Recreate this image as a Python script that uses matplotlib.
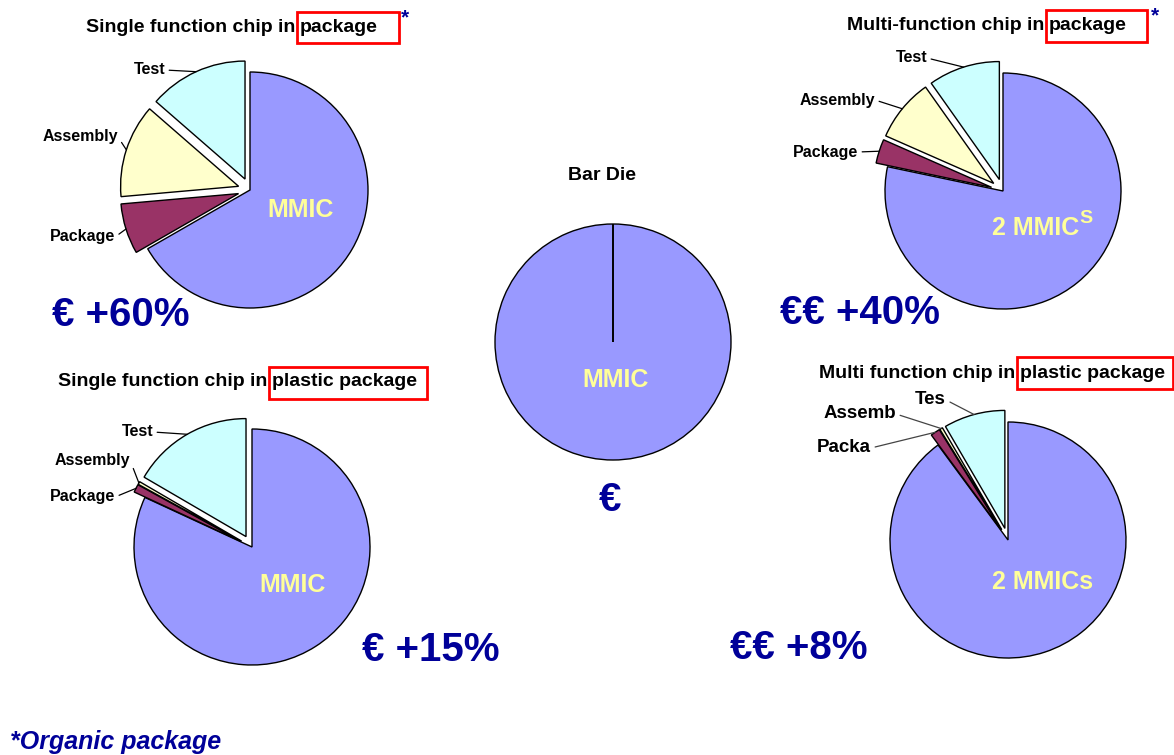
import matplotlib.pyplot as plt
from matplotlib.patches import Rectangle
import numpy as np

plt.rcParams['font.family'] = ['Liberation Sans', 'DejaVu Sans']

W, H = 1174, 755

# cost breakdown (% of total), clockwise from 12 o'clock
parts = ['MMIC', 'Package', 'Assembly', 'Test']
colors = ['#9999FF', '#993366', '#FFFFCC', '#CCFFFF']

single_pkg = [66.7, 6.9, 12.8, 13.6]
multi_pkg = [78.3, 3.3, 8.6, 9.8]
single_plastic = [81.9, 1.1, 0.4, 16.6]
multi_plastic = [89.9, 1.3, 0.4, 8.4]
bar_die = [100, 0, 0, 0]

cost_notes = ['€ +60%', '€€ +40%', '€ +15%', '€€ +8%', '€']

NAVY = '#000099'
YELLOW = '#FFFF99'
R = 118
GAP = 12


def Y(p):
    # pixel rows run downwards, data y runs upwards
    return H - p


fig = plt.figure(figsize=(W / 100, H / 100), dpi=100)
ax = fig.add_axes([0, 0, 1, 1])


def draw_pie(values, cx, cy):
    explode = [0] + [GAP if v > 0 else 0 for v in values[1:]]
    wedges, _ = ax.pie(values, colors=colors, startangle=90, counterclock=False,
                       center=(cx, Y(cy)), radius=R, explode=explode,
                       wedgeprops=dict(edgecolor='black', linewidth=1.0))
    return wedges


def leader(wedge, text, tx, ty, size=11.5, color='black'):
    ang = np.deg2rad((wedge.theta1 + wedge.theta2) / 2)
    x0, y0 = wedge.center
    px = x0 + wedge.r * np.cos(ang)
    py = y0 + wedge.r * np.sin(ang)
    ax.annotate(text, xy=(px, py), xytext=(tx, Y(ty)), ha='right', va='center',
                fontsize=size, fontweight='bold',
                arrowprops=dict(arrowstyle='-', color=color, lw=0.9,
                                shrinkA=1, shrinkB=0, relpos=(1, 0.5)))


def title(prefix, boxed, box, y):
    x0, y0, x1, y1 = box
    ax.add_patch(Rectangle((x0, Y(y1)), x1 - x0, y1 - y0, fill=False,
                           edgecolor='red', lw=2))
    ax.text(x0 - 2, Y(y), prefix, ha='right', va='center', fontsize=14, fontweight='bold')
    ax.text(x0 + 3, Y(y), boxed, ha='left', va='center', fontsize=14, fontweight='bold')


# single function chip in package
w = draw_pie(single_pkg, 250, 190)
leader(w[3], parts[3], 165, 70)
leader(w[2], parts[2], 118, 137)
leader(w[1], parts[1], 115, 237)
title('Single function chip in', 'package', (297, 12, 399, 43), 28)
ax.text(405, Y(18), '*', color=NAVY, fontsize=15, fontweight='bold', ha='center', va='center')
ax.text(301, Y(210), 'MMIC', color=YELLOW, fontsize=18, fontweight='bold', ha='center', va='center')
ax.text(52, Y(315), cost_notes[0], color=NAVY, fontsize=29, fontweight='bold', ha='left', va='center')

# multi-function chip in package
w = draw_pie(multi_pkg, 1003, 191)
leader(w[3], parts[3], 927, 58)
leader(w[2], parts[2], 875, 100)
leader(w[1], parts[1], 858, 152)
title('Multi-function chip in', 'package', (1046, 10, 1147, 42), 26)
ax.text(1155, Y(16), '*', color=NAVY, fontsize=15, fontweight='bold', ha='center', va='center')
t = ax.text(992, Y(228), '2 MMIC', color=YELLOW, fontsize=18, fontweight='bold', ha='left', va='center')
ax.annotate('S', xy=(1, 0.55), xycoords=t, color=YELLOW, fontsize=14, fontweight='bold',
            ha='left', va='bottom')
ax.text(780, Y(313), cost_notes[1], color=NAVY, fontsize=29, fontweight='bold', ha='left', va='center')

# single function chip in plastic package
w = draw_pie(single_plastic, 252, 547)
leader(w[3], parts[3], 153, 432)
leader(w[2], parts[2], 130, 460)
leader(w[1], parts[1], 115, 497)
title('Single function chip in', 'plastic package', (269, 367, 427, 399), 382)
ax.text(293, Y(585), 'MMIC', color=YELLOW, fontsize=18, fontweight='bold', ha='center', va='center')
ax.text(362, Y(650), cost_notes[2], color=NAVY, fontsize=29, fontweight='bold', ha='left', va='center')

# multi function chip in plastic package
w = draw_pie(multi_plastic, 1008, 540)
leader(w[3], 'Tes', 946, 400, size=13.5, color='#444444')
leader(w[2], 'Assemb', 896, 414, size=13.5, color='#444444')
leader(w[1], 'Packa', 871, 448, size=13.5, color='#444444')
title('Multi function chip in', 'plastic package', (1017, 357, 1173, 389), 373)
ax.text(992, Y(582), '2 MMICs', color=YELLOW, fontsize=18, fontweight='bold', ha='left', va='center')
ax.text(730, Y(648), cost_notes[3], color=NAVY, fontsize=29, fontweight='bold', ha='left', va='center')

# bar die
draw_pie(bar_die, 613, 342)
ax.text(602, Y(175), 'Bar Die', fontsize=14, fontweight='bold', ha='center', va='center')
ax.text(616, Y(380), 'MMIC', color=YELLOW, fontsize=18, fontweight='bold', ha='center', va='center')
ax.text(610, Y(500), cost_notes[4], color=NAVY, fontsize=29, fontweight='bold', ha='center', va='center')

ax.text(10, Y(742), '*Organic package', color=NAVY, fontsize=18, fontweight='bold',
        fontstyle='italic', ha='left', va='center')

ax.set_xlim(0, W)
ax.set_ylim(0, H)
ax.set_aspect('equal')
ax.axis('off')

fig.savefig('out.png', dpi=100)
